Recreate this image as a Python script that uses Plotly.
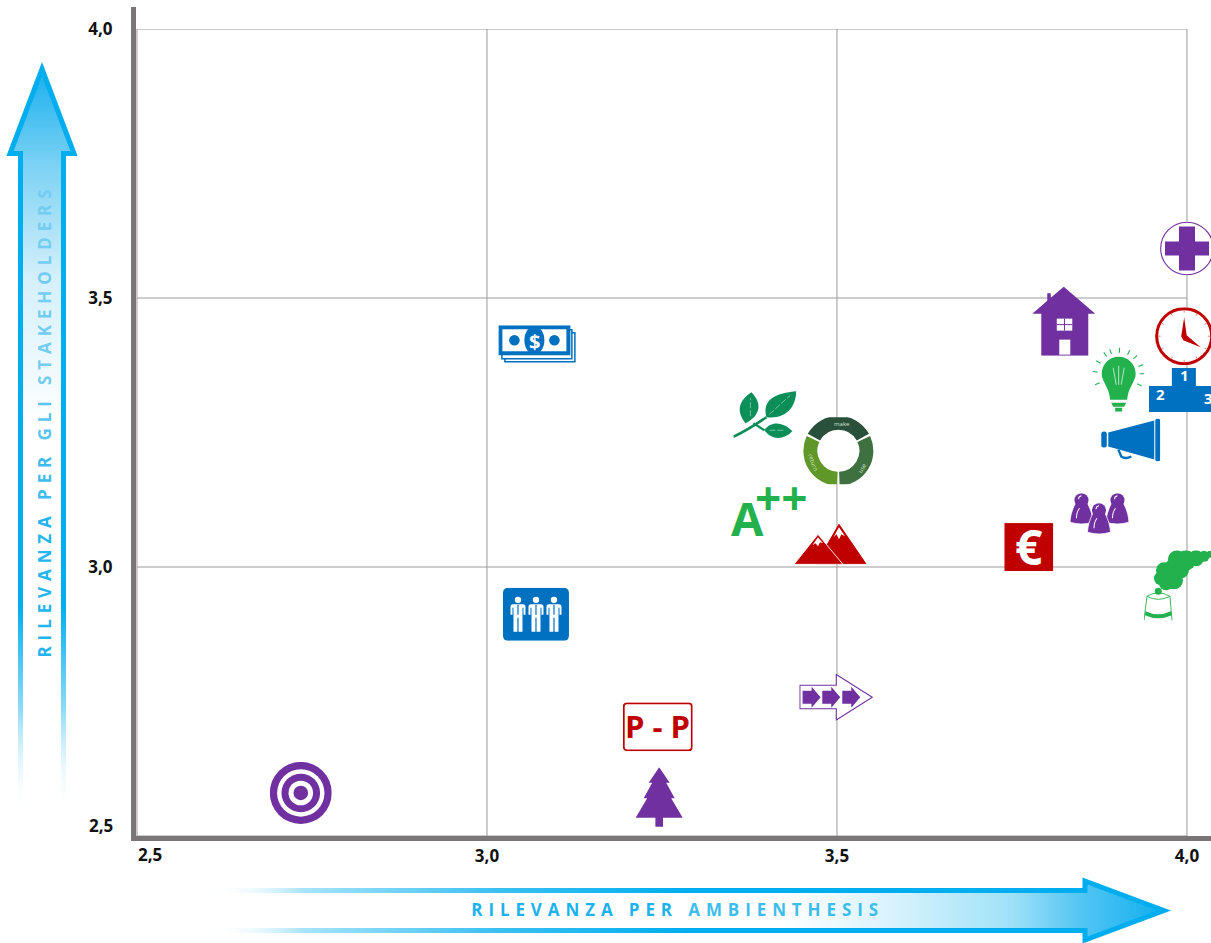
import base64, math
import plotly.graph_objects as go

# ---------- data ----------
ICON_NAMES = ["target", "tree", "pp", "arrows", "staff", "money", "leaves", "cycle", "aplus",
              "mountains", "euro", "team", "smoke", "cross", "house", "clock", "podium", "bulb", "megaphone"]
X_VALUES = [2.734, 3.246, 3.244, 3.499, 3.070, 3.072, 3.397, 3.502, 3.404,
            3.490, 3.774, 3.875, 3.990, 4.000, 3.824, 3.996, 3.997, 3.901, 3.919]
Y_VALUES = [2.580, 2.572, 2.703, 2.758, 2.912, 3.414, 3.283, 3.216, 3.102,
            3.043, 3.037, 3.098, 2.965, 3.592, 3.457, 3.429, 3.329, 3.349, 3.236]
TICK_VALUES = [3.0, 3.5, 4.0]
TICK_LABELS = ["3,0", "3,5", "4,0"]
GRID_VALUES = [2.5, 3.0, 3.5, 4.0]
ORIGIN_LABEL = "2,5"
X_TITLE_WORDS = ["RILEVANZA PER", "AMBIENTHESIS"]
Y_TITLE_WORDS = ["RILEVANZA", "PER", "GLI", "STAKEHOLDERS"]

# ---------- layout constants ----------
W, H = 1211, 943
L, R, T, B = 136, 0, 29, 107
PX_X, PX_Y = 700.0, 538.0
X0 = 2.4986
XR = [X0, X0 + (W - L - R) / PX_X]
YR = [2.5, 4.0]
PLOT_W, PLOT_H = W - L - R, H - T - B

PURPLE, BLUE, RED, GREEN = "#7030A0", "#0070C0", "#C00000", "#22B14C"
AXIS, GRID, FONT = "#7A7677", "#9C9C9C", "Open Sans"


def uri(w, h, body, defs=""):
    svg = (f'<svg xmlns="http://www.w3.org/2000/svg" width="{w}" height="{h}" viewBox="0 0 {w} {h}">'
           f'<defs>{defs}</defs>{body}</svg>')
    return "data:image/svg+xml;base64," + base64.b64encode(svg.encode()).decode()


def arc(cx, cy, r, a0, a1):
    x0, y0 = cx + r * math.cos(math.radians(a0)), cy + r * math.sin(math.radians(a0))
    x1, y1 = cx + r * math.cos(math.radians(a1)), cy + r * math.sin(math.radians(a1))
    return f"M{x0:.2f} {y0:.2f}A{r} {r} 0 {1 if a1 - a0 > 180 else 0} 1 {x1:.2f} {y1:.2f}"


def suit(cx):
    return (f'<circle cx="{cx}" cy="12" r="3.2" fill="#fff"/>'
            f'<path d="M{cx-7.5} 27V19Q{cx-7.5} 16.5 {cx-5} 16.5H{cx+5}Q{cx+7.5} 16.5 {cx+7.5} 19V27H{cx+5.5}V20'
            f'L{cx+4.5} 20V44H{cx+0.6}V30H{cx-0.6}V44H{cx-4.5}V20L{cx-5.5} 20V27Z" fill="#fff"/>'
            f'<path d="M{cx} 17V27" stroke="{BLUE}" stroke-width="1.2"/>')


def pawn(cx, top, fill=PURPLE):
    return (f'<path d="M{cx-11.5} {top+29}C{cx-11} {top+20} {cx-8} {top+14} {cx-6} {top+10}H{cx+6}'
            f'C{cx+8} {top+14} {cx+11} {top+20} {cx+11.5} {top+29}Q{cx} {top+32.5} {cx-11.5} {top+29}Z" '
            f'fill="{fill}" stroke="#fff" stroke-width="0.8"/>'
            f'<circle cx="{cx}" cy="{top+7}" r="7" fill="{fill}"/>'
            f'<path d="M{cx-3} {top+6}Q{cx-3} {top+3} {cx} {top+2.5}M{cx-5} {top+25}Q{cx-5} {top+19} {cx-2} {top+15}" '
            f'stroke="#fff" stroke-width="1" fill="none"/>')


def mini(x):
    return f'<path d="M{x} 17H{x+9}V13L{x+18} 23.5L{x+9} 34V30H{x}Z" fill="{PURPLE}"/>'


rays = "".join(
    f'<path d="M{27.5+21*math.cos(math.radians(a)):.1f} {27+21*math.sin(math.radians(a)):.1f}'
    f'L{27.5+26*math.cos(math.radians(a)):.1f} {27+26*math.sin(math.radians(a)):.1f}" '
    f'stroke="{GREEN}" stroke-width="1.1"/>'
    for a in (-175, -150, -125, -110, -88, -65, -45, -20, 0, 28, 155))
clock_ticks = "".join(
    f'<path d="M{29.5+23.5*math.cos(math.radians(a)):.1f} {29+23.5*math.sin(math.radians(a)):.1f}'
    f'L{29.5+26*math.cos(math.radians(a)):.1f} {29+26*math.sin(math.radians(a)):.1f}" stroke="#D98080" stroke-width="1"/>'
    for a in range(0, 360, 30))
smoke_blobs = [(33, 9, 9), (42, 10, 10), (52, 8, 8), (60, 6, 5.5), (66, 4, 3.5), (28, 16, 7), (37, 20, 8),
               (20, 20, 8), (17, 28, 7), (30, 30, 9), (22, 33, 7), (14.3, 41, 3.5)]

ICONS = {
    "target": (62, 62, f'<circle cx="31" cy="31" r="31" fill="{PURPLE}"/><circle cx="31" cy="31" r="23.7" fill="#fff"/>'
                       f'<circle cx="31" cy="31" r="19.3" fill="{PURPLE}"/><circle cx="31" cy="31" r="12.3" fill="#fff"/>'
                       f'<circle cx="31" cy="31" r="7.3" fill="{PURPLE}"/>'),
    "tree": (47, 60, f'<path d="M23.5 0L34 15.5H30.5L39 31H35.5L47 50.5H27.3V59.5H19.7V50.5H0L11.5 31H8L16.5 15.5H13Z" fill="{PURPLE}"/>'),
    "pp": (70, 49, f'<rect x="1" y="1" width="68" height="47" rx="3" fill="#fff" stroke="{RED}" stroke-width="1.8"/>'),
    "arrows": (74, 47, f'<path d="M.6 11.5H37V.8L73 23.5L37 46.2V35H.6Z" fill="#fff" stroke="{PURPLE}" stroke-width="1.1"/>'
                       + mini(3.3) + mini(23) + mini(43)),
    "staff": (66, 53, f'<rect width="66" height="53" rx="5" fill="{BLUE}"/>' + suit(15) + suit(33) + suit(51)),
    "money": (78, 38, f'<rect x="6.5" y="7.5" width="70" height="29" fill="#fff" stroke="{BLUE}" stroke-width="1.5"/>'
                      f'<rect x="3.5" y="4.5" width="70" height="29" fill="#fff" stroke="{BLUE}" stroke-width="1.5"/>'
                      f'<rect x="2" y="2" width="68" height="26" fill="#fff" stroke="{BLUE}" stroke-width="4"/>'
                      f'<circle cx="16" cy="15" r="5.3" fill="{BLUE}"/><circle cx="56" cy="15" r="5.3" fill="{BLUE}"/>'
                      f'<ellipse cx="36" cy="15" rx="10" ry="14" fill="{BLUE}"/>'),
    "leaves": (63, 49, '<path d="M0 46.5Q14 40 33 27" stroke="#0B8E58" stroke-width="2.6" fill="none"/>'
                       '<path d="M12 33C2 20 6 10 18 2C30 14 26 26 12 33Z" fill="#0B8E58"/>'
                       '<path d="M33 27C28 8 44 3 63 1C62 18 52 29 33 27Z" fill="#0B8E58"/>'
                       '<path d="M31 40C38 30 50 32 59 41C50 50 38 50 31 40Z" fill="#0B8E58"/>'
                       '<path d="M20 33Q25 36 31 40" stroke="#0B8E58" stroke-width="2.2" fill="none"/>'
                       '<path d="M17 26V8M36 24L57 5M36 40H52" stroke="#A6D9C0" stroke-width="0.7" stroke-dasharray="6 2" fill="none"/>'),
    "cycle": (71, 67, '<circle cx="35.5" cy="33.5" r="33" fill="#fff"/>'
                      f'<path d="{arc(35.5,33.5,28,-151,-29)}" stroke="#29503A" stroke-width="14" fill="none"/>'
                      f'<path d="{arc(35.5,33.5,28,-25,88)}" stroke="#3F7040" stroke-width="14" fill="none"/>'
                      f'<path d="{arc(35.5,33.5,28,92,205)}" stroke="#5F9728" stroke-width="14" fill="none"/>'),
    "aplus": (76, 51, ''),
    "mountains": (74, 41, '<path d="M46 1L73 40.5H23Z" fill="#C00000" stroke="#C00000" stroke-width="1"/>'
                          '<path d="M46 4L52 13L48.5 11L46 16L43.5 11L40.5 14Z" fill="#fff"/>'
                          '<path d="M25 11L1 41H50Z" fill="#C00000" stroke="#fff" stroke-width="0.9"/>'
                          '<path d="M25 14L30 20L27 19L25 23L22.5 20L19.5 22Z" fill="#fff"/>'),
    "euro": (49, 48, f'<rect width="49" height="48" fill="{RED}"/>'),
    "team": (59, 42, pawn(11.5, 0) + pawn(47.5, 0) + pawn(29, 10)),
    "smoke": (72, 71, "".join(f'<circle cx="{x}" cy="{y}" r="{r}" fill="{GREEN}"/>' for x, y, r in smoke_blobs)
              + f'<path d="M3 46Q14 39 26 46L28 70M3 46L0 70" stroke="{GREEN}" stroke-width="0.9" fill="none"/>'
                f'<path d="M3 46Q14 52 26 46" stroke="{GREEN}" stroke-width="0.9" fill="none"/>'
                f'<path d="M1.5 61Q14 67 27 61L28 65Q14 71 1 65Z" fill="{GREEN}"/>'),
    "cross": (54, 54, f'<circle cx="27" cy="27" r="26.3" fill="#fff" stroke="{PURPLE}" stroke-width="1.1"/>'
                      f'<path d="M19 5H35V20H49V34H35V49H19V34H5V20H19Z" fill="{PURPLE}"/>'),
    "house": (63, 69, f'<path d="M31.5 0L63 27H56V69H9V27H0L15 14V6.5H18.5V11Z" fill="{PURPLE}"/>'
                      '<rect x="24.5" y="32" width="15.5" height="12" fill="#fff"/>'
                      f'<path d="M32.2 32V44M24.5 38H40" stroke="{PURPLE}" stroke-width="1"/>'
                      '<rect x="27" y="53" width="11" height="15" fill="#fff"/>'),
    "clock": (59, 58, f'<circle cx="29.5" cy="29" r="27.5" fill="#fff" stroke="{RED}" stroke-width="3"/>' + clock_ticks +
                      f'<path d="M29.5 10L32 28L46 40L28.5 33L26.5 29Z" fill="{RED}"/>'),
    "podium": (72, 44, f'<path d="M23 0H47V18H72V44H0V18H23Z" fill="{BLUE}"/>'),
    "bulb": (53, 65, rays + f'<path d="M10.5 27A17 17 0 1 1 44.5 27C44.5 35 37 40 36 53H19C18 40 10.5 35 10.5 27Z" fill="{GREEN}"/>'
                     '<path d="M22 21L25 38M27.5 19V38M33 21L30 38" stroke="#C8EBD2" stroke-width="0.9" fill="none"/>'
                     f'<path d="M20 56H35L33 60H22Z" fill="{GREEN}"/><rect x="24" y="61" width="7" height="4" fill="{GREEN}"/>'),
    "megaphone": (60, 43, f'<rect x="55" y="0" width="5" height="43" rx="2.5" fill="{BLUE}"/>'
                          f'<rect x="1" y="13" width="5.5" height="16" rx="2.5" fill="{BLUE}"/>'
                          f'<path d="M8 14L54 2V41L8 28Z" fill="{BLUE}"/>'
                          f'<path d="M18 31L21 38Q25 41 31 38" stroke="{BLUE}" stroke-width="2.4" fill="none"/>'),
}

# ---------- decorative gradient arrows ----------
v_defs = ('<linearGradient id="s" x1="0" y1="0" x2="0" y2="1"><stop offset="0" stop-color="#00AEEF"/>'
          '<stop offset=".72" stop-color="#00AEEF"/><stop offset=".86" stop-color="#8FDBF8"/>'
          '<stop offset="1" stop-color="#fff" stop-opacity="0"/></linearGradient>'
          '<linearGradient id="f" x1="0" y1="0" x2="0" y2="1"><stop offset="0" stop-color="#18AFEE"/>'
          '<stop offset=".13" stop-color="#7CD2F4"/><stop offset=".28" stop-color="#D4F0FB"/>'
          '<stop offset=".48" stop-color="#fff"/></linearGradient>')
v_arrow = uri(84, 760, '<path d="M42 11L74 95.5H63.5V756H20.5V95.5H10Z" fill="url(#f)" stroke="url(#s)" stroke-width="5"/>', v_defs)
h_defs = ('<linearGradient id="s" x1="0" y1="0" x2="1" y2="0"><stop offset="0" stop-color="#fff" stop-opacity="0"/>'
          '<stop offset=".1" stop-color="#A5E3FA"/><stop offset=".3" stop-color="#3CC0F2"/>'
          '<stop offset=".5" stop-color="#00AEEF"/><stop offset="1" stop-color="#00AEEF"/></linearGradient>'
          '<linearGradient id="f" x1="0" y1="0" x2="1" y2="0"><stop offset=".6" stop-color="#fff"/>'
          '<stop offset=".72" stop-color="#D6F2FC"/><stop offset=".84" stop-color="#A0E1F8"/>'
          '<stop offset=".91" stop-color="#55C6F2"/><stop offset="1" stop-color="#0FAEEF"/></linearGradient>')
h_arrow = uri(970, 74, '<path d="M954 37.5L875 8V17.5H0V57.5H875V67Z" fill="url(#f)" stroke="url(#s)" stroke-width="5"/>', h_defs)


def page_image(src, left, top, w, h):
    return dict(source=src, xref="paper", yref="paper", xanchor="left", yanchor="top",
                x=(left - L) / PLOT_W, y=(H - B - top) / PLOT_H, sizex=w / PLOT_W, sizey=h / PLOT_H,
                sizing="stretch", layer="below")


images = [page_image(v_arrow, 0, 58, 84, 760), page_image(h_arrow, 210, 873, 970, 74)]
for name, x, y in zip(ICON_NAMES, X_VALUES, Y_VALUES):
    w, h, body = ICONS[name]
    if body:
        images.append(dict(source=uri(w, h, body), xref="x", yref="y", x=x, y=y, xanchor="center", yanchor="middle",
                           sizex=w / PX_X, sizey=h / PX_Y, sizing="stretch", layer="above"))

POS = {n: (x, y) for n, x, y in zip(ICON_NAMES, X_VALUES, Y_VALUES)}


def label(icon, text, dx, dy, size, color, weight=700, angle=0):
    x, y = POS[icon]
    return dict(x=x, y=y, xref="x", yref="y", text=text, xshift=dx, yshift=-dy, showarrow=False,
                xanchor="center", yanchor="middle", textangle=angle,
                font=dict(family=FONT, size=size, color=color, weight=weight))


def page_label(px, py, text, size, color="#111", weight=700, angle=0):
    return dict(xref="paper", yref="paper", x=(px - L) / PLOT_W, y=(H - B - py) / PLOT_H, text=text, showarrow=False,
                xanchor="center", yanchor="middle", textangle=angle,
                font=dict(family=FONT, size=size, color=color, weight=weight))


annotations = [
    label("pp", "P - P", 0, -1, 31, RED),
    label("money", "$", -3, -3, 20, "#fff"),
    label("euro", "€", 0, -1, 48, "#fff"),
    label("aplus", "A", -22, 6, 47, GREEN),
    label("aplus", "++", 12, -15, 46, GREEN),
    label("podium", "1", 0, -15, 15, "#fff"),
    label("podium", "2", -24, 4, 15, "#fff"),
    label("podium", "3", 24, 8, 15, "#fff"),
    label("cycle", "make", 4, -27, 6, "#D5E3CF", 400),
    label("cycle", "use", 24, 17, 6, "#D5E3CF", 400, -60),
    label("cycle", "return", -25, 12, 6, "#D5E3CF", 400, 70),
    page_label(150, 855, ORIGIN_LABEL, 17),
    page_label(101, 825, ORIGIN_LABEL, 17),
    page_label(677, 909, f'<span style="color:#1CB2EE">{X_TITLE_WORDS[0]}</span> '
                         f'<span style="color:#3DBDEB">{X_TITLE_WORDS[1]}</span>', 17, "#1CB2EE", 700),
    page_label(44, 421, " ".join(f'<span style="color:{c}">{t}</span>' for t, c in
                                 zip(Y_TITLE_WORDS, ["#25B5EE", "#3FBCEE", "#5AC5F0", "#72CDF1"])),
               17, "#25B5EE", 700, -90),
]

shapes = []
for v in GRID_VALUES:
    shapes.append(dict(type="line", xref="x", yref="y", x0=v, x1=v, y0=YR[0], y1=YR[1], layer="below",
                       line=dict(color=GRID, width=1)))
    shapes.append(dict(type="line", xref="x", yref="y", x0=GRID_VALUES[0], x1=GRID_VALUES[-1], y0=v, y1=v, layer="below",
                       line=dict(color=GRID, width=1)))
# spine rises above the 4,0 line
shapes.append(dict(type="line", xref="paper", yref="paper", x0=-2.5 / PLOT_W, x1=-2.5 / PLOT_W, y0=0,
                   y1=(H - B - 7) / PLOT_H, line=dict(color=AXIS, width=5)))

fig = go.Figure(go.Scatter(x=X_VALUES, y=Y_VALUES, mode="markers", text=ICON_NAMES, hoverinfo="text",
                           marker=dict(size=30, color="rgba(0,0,0,0)"), showlegend=False))
axis_font = dict(family=FONT, size=17, color="#111", weight=700)
fig.update_layout(
    width=W, height=H, margin=dict(l=L, r=R, t=T, b=B, pad=0), paper_bgcolor="#fff", plot_bgcolor="#fff",
    showlegend=False, images=images, shapes=shapes, annotations=annotations,
    xaxis=dict(range=XR, tickvals=TICK_VALUES, ticktext=TICK_LABELS, showgrid=False, zeroline=False, showline=True,
               linecolor=AXIS, linewidth=5, ticks="outside", ticklen=1, tickcolor="rgba(0,0,0,0)", tickfont=axis_font,
               fixedrange=True),
    yaxis=dict(range=YR, tickvals=TICK_VALUES, ticktext=TICK_LABELS, showgrid=False, zeroline=False, showline=True,
               linecolor=AXIS, linewidth=5, ticks="outside", ticklen=15, tickcolor="rgba(0,0,0,0)", tickfont=axis_font,
               fixedrange=True),
)

POST = """
document.body.style.margin = '0';
document.documentElement.style.overflow = 'hidden';
document.querySelectorAll('.annotation-text').forEach(function (t) {
  var s = t.textContent;
  if (s.indexOf('AMBIENTHESIS') >= 0) t.style.letterSpacing = '5.9px';
  if (s.indexOf('STAKEHOLDERS') >= 0) t.style.letterSpacing = '5.9px';
});
"""
fig.write_html("out.html", post_script=POST, config=dict(displayModeBar=False))
